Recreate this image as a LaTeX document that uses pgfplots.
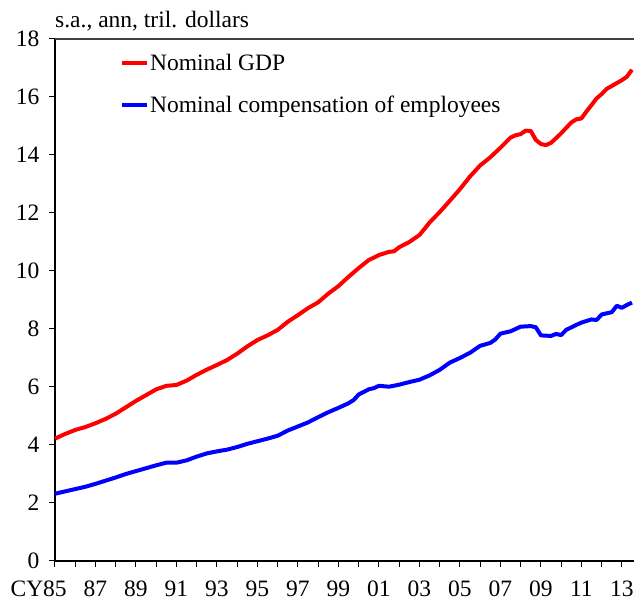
\documentclass[border=0pt]{standalone}
\usepackage{fontspec}
\setmainfont{Liberation Serif}
\usepackage{pgfplots}
\pgfplotsset{compat=1.18}
\newcommand\chartfont{\fontsize{23.5}{28}\selectfont}

\begin{document}
\begin{tikzpicture}
\begin{axis}[
  scale only axis,
  width=579pt, height=522pt,
  xmin=1985, xmax=2013.6,
  ymin=0, ymax=18,
  axis x line*=bottom,
  axis y line*=left,
  axis line style={black, line width=1.2pt},
  tick align=outside,
  major tick length=6pt,
  tick style={black, line width=1pt},
  xtick={1985,...,2013},
  xticklabels={\llap{CY}85,,87,,89,,91,,93,,95,,97,,99,,01,,03,,05,,07,,09,,11,,13},
  ytick={0,2,...,18},
  /pgf/number format/assume math mode=true,
  tick label style={font=\chartfont},
  xticklabel style={yshift=-12pt, inner ysep=2pt},
  yticklabel style={xshift=-6pt},
  clip=false,
  legend cell align=left,
  legend style={draw=none, fill=none, font=\chartfont,
    at={(rel axis cs:0.112,0.975)}, anchor=north west,
    row sep=20pt, inner sep=0pt, nodes={inner xsep=1pt},
    /tikz/every even column/.append style={column sep=0pt}},
  legend image code/.code={\draw[#1, line width=4pt] (0pt,0pt) -- (25pt,0pt);},
]
\coordinate (sw) at (rel axis cs:0,0);
\draw[black!75, line width=1.2pt] (rel axis cs:0,1) -- (rel axis cs:1,1);
\node[anchor=base west, font=\chartfont, inner sep=0pt] at ([yshift=11pt]rel axis cs:0,1) {s.a., ann, tril. dollars};

\addplot[red, line width=4pt, line join=round] coordinates {
(1985.0,4.22) (1985.5,4.38) (1986.0,4.52) (1986.5,4.62) (1987.0,4.75) (1987.5,4.90)
(1988.0,5.08) (1988.5,5.30) (1989.0,5.52) (1989.5,5.72) (1990.0,5.92) (1990.5,6.04)
(1991.0,6.07) (1991.5,6.22) (1992.0,6.42) (1992.5,6.60) (1993.0,6.76) (1993.5,6.93)
(1994.0,7.15) (1994.5,7.40) (1995.0,7.62) (1995.5,7.78) (1996.0,7.97) (1996.5,8.25)
(1997.0,8.48) (1997.5,8.72) (1998.0,8.92) (1998.5,9.22) (1999.0,9.48) (1999.5,9.80)
(2000.0,10.10) (2000.5,10.38) (2000.75,10.46) (2001.0,10.55) (2001.5,10.66) (2001.75,10.68)
(2002.0,10.82) (2002.5,11.00) (2003.0,11.24) (2003.25,11.45) (2003.5,11.67) (2004.0,12.03)
(2004.5,12.42) (2005.0,12.82) (2005.5,13.26) (2006.0,13.64) (2006.5,13.92) (2007.0,14.25)
(2007.5,14.60) (2007.75,14.68) (2008.0,14.72) (2008.25,14.84) (2008.5,14.83) (2008.75,14.52)
(2009.0,14.38) (2009.25,14.34) (2009.5,14.42) (2009.75,14.58) (2010.0,14.75) (2010.5,15.12)
(2010.75,15.23) (2011.0,15.26) (2011.25,15.50) (2011.5,15.72) (2011.75,15.95) (2012.0,16.10)
(2012.25,16.28) (2012.5,16.38) (2012.75,16.48) (2013.0,16.58) (2013.25,16.70) (2013.5,16.94)
};
\addlegendentry{Nominal GDP}

\addplot[blue, line width=4pt, line join=round] coordinates {
(1985.0,2.32) (1985.5,2.40) (1986.0,2.48) (1986.5,2.56) (1987.0,2.66) (1987.5,2.77)
(1988.0,2.88) (1988.5,3.00) (1989.0,3.10) (1989.5,3.20) (1990.0,3.30) (1990.5,3.39)
(1991.0,3.39) (1991.5,3.47) (1992.0,3.60) (1992.5,3.71) (1993.0,3.78) (1993.5,3.84)
(1994.0,3.93) (1994.5,4.04) (1995.0,4.13) (1995.5,4.22) (1996.0,4.32) (1996.5,4.50)
(1997.0,4.64) (1997.5,4.78) (1998.0,4.96) (1998.5,5.13) (1999.0,5.28) (1999.5,5.44)
(1999.75,5.55) (2000.0,5.74) (2000.5,5.92) (2000.75,5.96) (2001.0,6.04) (2001.5,6.01)
(2002.0,6.08) (2002.5,6.17) (2003.0,6.25) (2003.5,6.40) (2004.0,6.59) (2004.5,6.84)
(2005.0,7.00) (2005.5,7.18) (2006.0,7.42) (2006.5,7.52) (2006.75,7.64) (2007.0,7.84)
(2007.5,7.92) (2008.0,8.08) (2008.5,8.10) (2008.75,8.06) (2009.0,7.78) (2009.5,7.76)
(2009.75,7.83) (2010.0,7.79) (2010.25,7.97) (2010.75,8.14) (2011.0,8.22) (2011.5,8.33)
(2011.75,8.31) (2012.0,8.50) (2012.5,8.58) (2012.75,8.80) (2013.0,8.73) (2013.25,8.83)
(2013.5,8.91)
};
\addlegendentry{Nominal compensation of employees}
\end{axis}
\pgfresetboundingbox
\path (sw) ++(-55pt,-44pt) rectangle ++(635pt,605pt);
\end{tikzpicture}
\end{document}
